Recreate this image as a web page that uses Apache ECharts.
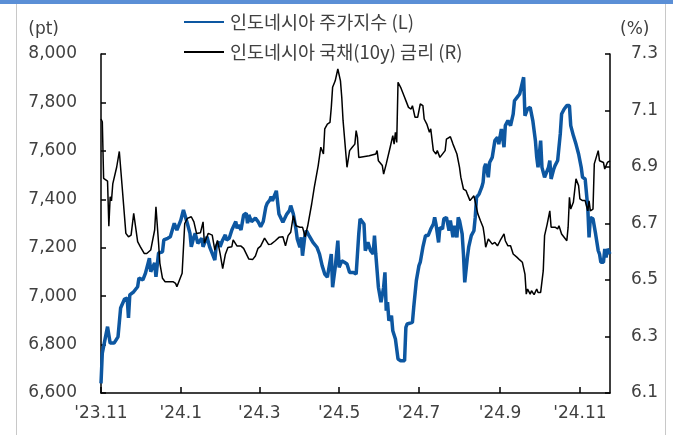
<!DOCTYPE html>
<html><head><meta charset="utf-8">
<script src="https://cdn.jsdelivr.net/npm/echarts@6/dist/echarts.min.js"></script>
<style>html,body{margin:0;padding:0;background:#fff}#c{width:673px;height:435px}</style>
</head><body><div id="c"></div>
<script>
// 인도네시아 주가지수 (pt)
const stockDates = [
'2023-11-01','2023-11-02','2023-11-06','2023-11-08','2023-11-11','2023-11-14','2023-11-16','2023-11-19','2023-11-21','2023-11-22','2023-11-23','2023-11-26','2023-11-29','2023-11-30',
'2023-12-03','2023-12-05','2023-12-08','2023-12-09','2023-12-12','2023-12-13','2023-12-15','2023-12-18','2023-12-19','2023-12-22','2023-12-24','2023-12-27','2023-12-29',
'2024-01-01','2024-01-03','2024-01-04','2024-01-06','2024-01-08','2024-01-09','2024-01-11','2024-01-12','2024-01-14','2024-01-17','2024-01-18','2024-01-21','2024-01-23','2024-01-25','2024-01-27','2024-01-28','2024-01-30','2024-01-31',
'2024-02-02','2024-02-04','2024-02-05','2024-02-07','2024-02-09','2024-02-12','2024-02-13','2024-02-14','2024-02-16','2024-02-18','2024-02-20','2024-02-21','2024-02-22','2024-02-24','2024-02-27','2024-02-29',
'2024-03-02','2024-03-04','2024-03-06','2024-03-07','2024-03-09','2024-03-10','2024-03-11','2024-03-14','2024-03-16','2024-03-19','2024-03-22','2024-03-24','2024-03-25','2024-03-27','2024-03-29','2024-03-30',
'2024-04-01','2024-04-02','2024-04-03','2024-04-05','2024-04-06','2024-04-08','2024-04-11','2024-04-14','2024-04-16','2024-04-18','2024-04-20','2024-04-22','2024-04-23','2024-04-25','2024-04-26','2024-04-28','2024-04-30',
'2024-05-01','2024-05-03','2024-05-05','2024-05-07','2024-05-09','2024-05-12','2024-05-14','2024-05-15','2024-05-16','2024-05-17','2024-05-20','2024-05-21','2024-05-23','2024-05-25','2024-05-27','2024-05-28','2024-05-29','2024-05-31',
'2024-06-02','2024-06-04','2024-06-05','2024-06-06','2024-06-07','2024-06-08','2024-06-10','2024-06-11','2024-06-13','2024-06-15','2024-06-17','2024-06-20','2024-06-21','2024-06-22','2024-06-26','2024-06-27','2024-06-29',
'2024-07-01','2024-07-02','2024-07-04','2024-07-06','2024-07-08','2024-07-10','2024-07-12','2024-07-13','2024-07-14','2024-07-16','2024-07-17','2024-07-19','2024-07-20','2024-07-22','2024-07-24','2024-07-25','2024-07-27','2024-07-28','2024-07-30','2024-07-31',
'2024-08-01','2024-08-03','2024-08-04','2024-08-05','2024-08-07','2024-08-08','2024-08-10','2024-08-12','2024-08-13','2024-08-14','2024-08-16','2024-08-18','2024-08-19','2024-08-20','2024-08-21','2024-08-23','2024-08-24','2024-08-26','2024-08-28','2024-08-30','2024-08-31',
'2024-09-02','2024-09-04','2024-09-05','2024-09-07','2024-09-09','2024-09-11','2024-09-12','2024-09-14','2024-09-16','2024-09-19','2024-09-20','2024-09-22','2024-09-24','2024-09-26','2024-09-28','2024-09-29','2024-09-30',
'2024-10-02','2024-10-03','2024-10-05','2024-10-06','2024-10-08','2024-10-09','2024-10-10','2024-10-12','2024-10-13','2024-10-15','2024-10-17','2024-10-18','2024-10-20','2024-10-22','2024-10-24','2024-10-25','2024-10-27','2024-10-29','2024-10-31',
'2024-11-02','2024-11-03','2024-11-05','2024-11-07','2024-11-08','2024-11-09','2024-11-11','2024-11-12','2024-11-13','2024-11-15','2024-11-16','2024-11-17','2024-11-19','2024-11-20','2024-11-21','2024-11-22','2024-11-24'
];
const stockValues = [
6640,6765,6874,6806,6806,6832,6951,6988,6992,6910,7005,7018,7039,7075,
7067,7095,7157,7101,7137,7080,7178,7183,7232,7239,7245,7301,7273,
7314,7356,7363,7300,7259,7204,7245,7259,7218,7239,7204,7245,7204,7177,7149,7204,7225,7204,
7232,7253,7232,7239,7273,7308,7280,7294,7273,7335,7342,7301,7335,7308,7322,7308,
7287,7308,7369,7383,7397,7411,7394,7435,7339,7305,7339,7353,7374,7339,7277,7236,
7202,7243,7167,7257,7270,7250,7222,7202,7174,7126,7091,7078,7071,7174,7037,7119,7229,
7119,7146,7140,7133,7098,7098,7091,7174,7257,7319,7298,7188,7222,7188,7174,7250,7174,7037,
6975,7037,7098,6940,6975,6899,6919,6857,6823,6740,6733,6733,6871,6885,6892,6954,7064,
7126,7140,7202,7250,7250,7277,7298,7325,7298,7222,7284,7277,7319,7325,7270,7312,7243,7291,7243,7325,
7312,7257,7174,7057,7160,7202,7250,7270,7325,7408,7422,7450,7470,7532,7546,7491,7552,7573,7642,7656,7628,
7690,7615,7704,7725,7704,7752,7807,7821,7835,7904,7745,7773,7780,7725,7642,7573,7532,
7642,7532,7491,7497,7532,7560,7484,7525,7539,7560,7670,7752,7773,7787,7787,7704,7663,7628,7587,
7532,7491,7484,7367,7243,7325,7319,7312,7257,7188,7174,7140,7140,7195,7160,7195,7174
];
// 인도네시아 국채(10y) 금리 (%)
const bondDates = [
'2023-11-01','2023-11-02','2023-11-03','2023-11-06','2023-11-07','2023-11-08','2023-11-09','2023-11-10','2023-11-13','2023-11-15','2023-11-16','2023-11-17','2023-11-20','2023-11-22','2023-11-24','2023-11-26','2023-11-27','2023-11-29',
'2023-12-01','2023-12-04','2023-12-06','2023-12-09','2023-12-10','2023-12-12','2023-12-13','2023-12-15','2023-12-16','2023-12-18','2023-12-20','2023-12-23','2023-12-26','2023-12-28','2023-12-29','2023-12-31',
'2024-01-02','2024-01-04','2024-01-06','2024-01-09','2024-01-11','2024-01-13','2024-01-16','2024-01-18','2024-01-19','2024-01-22','2024-01-25','2024-01-27','2024-01-28','2024-01-29','2024-01-31',
'2024-02-02','2024-02-04','2024-02-06','2024-02-09','2024-02-10','2024-02-13','2024-02-16','2024-02-18','2024-02-22','2024-02-25','2024-02-27','2024-02-29',
'2024-03-02','2024-03-05','2024-03-08','2024-03-10','2024-03-13','2024-03-16','2024-03-19','2024-03-21','2024-03-23','2024-03-25','2024-03-27','2024-03-29',
'2024-04-01','2024-04-03','2024-04-05','2024-04-07','2024-04-10','2024-04-12','2024-04-15','2024-04-17','2024-04-19','2024-04-20','2024-04-22','2024-04-24','2024-04-25','2024-04-26','2024-04-28','2024-04-30',
'2024-05-02','2024-05-03','2024-05-04','2024-05-07','2024-05-09','2024-05-11','2024-05-13','2024-05-14','2024-05-15','2024-05-16','2024-05-24','2024-05-29','2024-05-30','2024-05-31',
'2024-06-03','2024-06-04','2024-06-06','2024-06-07','2024-06-09','2024-06-11','2024-06-12','2024-06-13','2024-06-14','2024-06-15','2024-06-17','2024-06-20','2024-06-21','2024-06-23','2024-06-25','2024-06-26','2024-06-28','2024-06-30',
'2024-07-02','2024-07-04','2024-07-05','2024-07-07','2024-07-09','2024-07-10','2024-07-12','2024-07-14','2024-07-15','2024-07-17','2024-07-18','2024-07-21','2024-07-22','2024-07-25','2024-07-27','2024-07-30',
'2024-08-01','2024-08-02','2024-08-04','2024-08-06','2024-08-07','2024-08-09','2024-08-10','2024-08-12','2024-08-13','2024-08-15','2024-08-17','2024-08-19','2024-08-20','2024-08-21','2024-08-23','2024-08-24','2024-08-26','2024-08-28','2024-08-30',
'2024-09-01','2024-09-04','2024-09-05','2024-09-07','2024-09-09','2024-09-11','2024-09-14','2024-09-16','2024-09-18','2024-09-20','2024-09-21','2024-09-22','2024-09-24','2024-09-25','2024-09-27','2024-09-29','2024-09-30',
'2024-10-02','2024-10-04','2024-10-05','2024-10-07','2024-10-09','2024-10-10','2024-10-13','2024-10-15','2024-10-16','2024-10-18','2024-10-22','2024-10-23','2024-10-24','2024-10-25','2024-10-27','2024-10-29','2024-10-31',
'2024-11-01','2024-11-03','2024-11-05','2024-11-07','2024-11-08','2024-11-09','2024-11-11','2024-11-12','2024-11-15','2024-11-16','2024-11-19','2024-11-20','2024-11-22','2024-11-24'
];
const bondValues = [
7.07,7.06,6.86,6.85,6.69,6.795,6.78,6.84,6.90,6.955,6.948,6.84,6.665,6.653,6.659,6.736,6.73,6.636,
6.618,6.594,6.594,6.606,6.63,6.677,6.759,6.63,6.559,6.506,6.494,6.494,6.494,6.488,6.476,6.50,
6.524,6.70,6.718,6.724,6.706,6.665,6.667,6.706,6.63,6.665,6.659,6.606,6.60,6.64,6.594,
6.54,6.59,6.615,6.618,6.642,6.62,6.62,6.612,6.574,6.573,6.585,6.612,
6.62,6.648,6.626,6.627,6.638,6.651,6.653,6.621,6.657,6.669,6.728,6.692,
6.687,6.687,6.653,6.692,6.769,6.828,6.905,6.97,6.946,7.035,7.052,7.058,7.111,7.182,7.205,7.247,
7.205,7.147,7.064,6.899,6.958,6.97,6.981,7.029,7.005,6.934,6.94,6.946,6.958,6.922,
6.905,6.875,6.911,6.905,6.97,7.011,6.981,7.023,6.987,7.20,7.182,7.147,7.135,7.111,7.105,7.117,7.076,7.076,
7.123,7.117,7.07,7.052,7.023,7.035,6.958,6.946,6.958,6.934,6.94,6.958,6.999,7.007,6.981,6.946,
6.899,6.864,6.822,6.816,6.804,6.781,6.787,6.798,6.793,6.734,6.71,6.687,6.657,6.616,6.645,6.639,6.627,6.633,6.621,
6.639,6.663,6.639,6.621,6.621,6.592,6.58,6.571,6.563,6.521,6.45,6.468,6.45,6.462,6.448,6.468,6.456,
6.456,6.533,6.657,6.698,6.745,6.687,6.687,6.681,6.692,6.663,6.639,6.687,6.793,6.751,6.775,6.858,6.834,
6.787,6.781,6.781,6.745,6.78,6.745,6.751,6.911,6.958,6.922,6.916,6.893,6.916,6.922
];
const xStart = '2023-11-01';
const xEnd = '2024-11-24';
const xTickDates = ['2023-11-01','2024-01-01','2024-03-01','2024-05-01','2024-07-01','2024-09-01','2024-11-01'];
const xTickLabels = ["'23.11","'24.1","'24.3","'24.5","'24.7","'24.9","'24.11"];
const leftMin = 6600, leftMax = 8000, leftStep = 200;
const rightTicks = [6.1, 6.3, 6.5, 6.7, 6.9, 7.1, 7.3];
const stockName = '인도네시아 주가지수 (L)';
const bondName = '인도네시아 국채(10y) 금리 (R)';

function toTs(s){ const p = s.split('-'); return Date.UTC(+p[0], +p[1]-1, +p[2]); }
const tickTs = xTickDates.map(toTs);
const labelFont = 'DejaVu Sans';
const textColor = '#404040';

const chart = echarts.init(document.getElementById('c'), null, {renderer:'canvas'});
chart.setOption({
  animation: false,
  backgroundColor: '#fff',
  graphic: [
    { type: 'rect', left: 0, top: 0, shape: { width: 673, height: 4 }, style: { fill: '#5b8fd6' }, silent: true },
    { type: 'rect', left: 16, top: 4, shape: { width: 1, height: 431 }, style: { fill: '#c8c8c8' }, silent: true },
    { type: 'rect', left: 665, top: 4, shape: { width: 1, height: 431 }, style: { fill: '#c8c8c8' }, silent: true }
  ],
  grid: { left: 101, right: 63, top: 54, bottom: 42, containLabel: false },
  legend: {
    orient: 'vertical', left: 183, top: 12, padding: 0, itemGap: 10, itemWidth: 40, itemHeight: 14,
    data: [stockName, bondName],
    itemStyle: { opacity: 0 },
    textStyle: { fontFamily: 'Noto Sans CJK KR', fontSize: 18.5, color: textColor, lineHeight: 20, padding: [0, 0, 0, 1] }
  },
  xAxis: {
    type: 'value', min: toTs(xStart), max: toTs(xEnd),
    axisLine: { lineStyle: { color: '#000', width: 1.5 } },
    axisTick: { show: true, inside: true, length: 6, customValues: tickTs, lineStyle: { color: '#000', width: 1.5 } },
    axisLabel: {
      customValues: tickTs, color: textColor, fontFamily: labelFont, fontSize: 17, margin: 12,
      formatter: function (v) {
        let best = 0, bd = Infinity;
        tickTs.forEach(function (t, i) { const d = Math.abs(t - v); if (d < bd) { bd = d; best = i; } });
        return bd < 86400000 ? xTickLabels[best] : '';
      }
    },
    splitLine: { show: false }
  },
  yAxis: [
    {
      type: 'value', position: 'left', min: leftMin, max: leftMax, interval: leftStep,
      name: '(pt)', nameLocation: 'end', nameGap: 16,
      nameTextStyle: { fontFamily: labelFont, fontSize: 17, color: textColor, align: 'right', padding: [0, 42, 0, 0] },
      axisLine: { show: true, lineStyle: { color: '#000', width: 1.5 } },
      axisTick: { show: true, inside: true, length: 5, lineStyle: { color: '#000', width: 1.5 } },
      axisLabel: { color: textColor, fontFamily: labelFont, fontSize: 17, margin: 24,
        formatter: function (v) { return v.toLocaleString('en-US'); } },
      splitLine: { show: false }
    },
    {
      type: 'value', position: 'right', min: rightTicks[0], max: rightTicks[rightTicks.length-1],
      name: '(%)', nameLocation: 'end', nameGap: 16,
      nameTextStyle: { fontFamily: labelFont, fontSize: 17, color: textColor, align: 'left', padding: [0, 0, 0, 10] },
      axisLine: { show: true, lineStyle: { color: '#000', width: 1.5 } },
      axisTick: { show: true, inside: true, length: 5, customValues: rightTicks, lineStyle: { color: '#000', width: 1.5 } },
      axisLabel: { customValues: rightTicks, color: textColor, fontFamily: labelFont, fontSize: 17, margin: 21,
        formatter: function (v) { return (+v).toFixed(1); } },
      splitLine: { show: false }
    }
  ],
  series: [
    {
      name: stockName, type: 'line', yAxisIndex: 0, symbol: 'none',
      data: stockDates.map(function (d, i) { return [toTs(d), stockValues[i]]; }),
      lineStyle: { color: '#0d57a1', width: 3.5 }, itemStyle: { color: '#0d57a1' }, z: 2
    },
    {
      name: bondName, type: 'line', yAxisIndex: 1, symbol: 'none',
      data: bondDates.map(function (d, i) { return [toTs(d), bondValues[i]]; }),
      lineStyle: { color: '#000', width: 1.5 }, itemStyle: { color: '#000' }, z: 3
    }
  ]
});
</script>
</body></html>
